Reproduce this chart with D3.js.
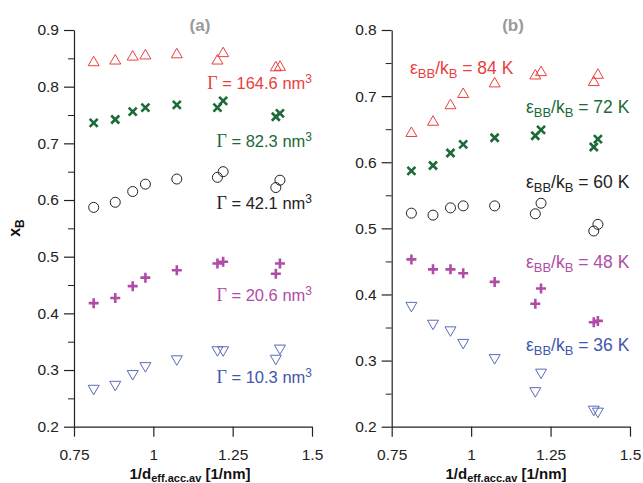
<!DOCTYPE html>
<html>
<head>
<meta charset="utf-8">
<script src="https://cdn.jsdelivr.net/npm/d3@7"></script>
<style>
  body { margin: 0; background: #fff; }
  svg text { font-family: "Liberation Sans", Arial, sans-serif; }
</style>
</head>
<body>
<div id="chart"></div>
<script>
// x values (1/d_eff.acc.av) shared by every series
var xVals = [0.812, 0.880, 0.935, 0.975, 1.074, 1.202, 1.220, 1.386, 1.399];

// panel (a): different Gamma
var aTri   = [0.844, 0.847, 0.854, 0.856, 0.858, 0.847, 0.860, 0.835, 0.836];
var aCross = [0.736, 0.742, 0.756, 0.763, 0.768, 0.763, 0.775, 0.747, 0.753];
var aCirc  = [0.587, 0.596, 0.615, 0.628, 0.637, 0.640, 0.650, 0.622, 0.635];
var aPlus  = [0.418, 0.427, 0.448, 0.463, 0.476, 0.488, 0.491, 0.470, 0.488];
var aDown  = [0.266, 0.273, 0.292, 0.306, 0.318, 0.334, 0.334, 0.319, 0.337];
var aLabels = ["164.6", "82.3", "42.1", "20.6", "10.3"];

// panel (b): different epsilon_BB/k_B
var bTri   = [0.645, 0.662, 0.687, 0.704, 0.720, 0.732, 0.737, 0.722, 0.733];
var bCross = [0.587, 0.595, 0.614, 0.627, 0.637, 0.640, 0.649, 0.623, 0.635];
var bCirc  = [0.523, 0.520, 0.531, 0.534, 0.534, 0.522, 0.538, 0.496, 0.506];
var bPlus  = [0.453, 0.438, 0.438, 0.432, 0.419, 0.386, 0.409, 0.358, 0.360];
var bDown  = [0.382, 0.355, 0.345, 0.326, 0.303, 0.253, 0.281, 0.225, 0.222];
var bLabels = ["84", "72", "60", "48", "36"];

var xTicks = [0.75, 1, 1.25, 1.5];
var aYTicks = [0.2, 0.3, 0.4, 0.5, 0.6, 0.7, 0.8, 0.9];
var bYTicks = [0.2, 0.3, 0.4, 0.5, 0.6, 0.7, 0.8];

var colors = ["#e8403e", "#1b6a38", "#222222", "#b04ca8", "#4257aa"];
var markerColors = ["#e8403e", "#1b6a38", "#222222", "#b04ca8", "#5a6bb8"];
var shapes = ["tri", "cross", "circ", "plus", "down"];

var svg = d3.select("#chart").append("svg")
    .attr("width", 643).attr("height", 483);

function drawMarker(g, shape, color, px, py) {
    if (shape === "tri") {
        g.append("path").attr("d", "M" + px + "," + (py - 5.5) + "L" + (px + 5.5) + "," + (py + 4) + "L" + (px - 5.5) + "," + (py + 4) + "Z")
            .attr("fill", "none").attr("stroke", color).attr("stroke-width", 1);
    } else if (shape === "down") {
        g.append("path").attr("d", "M" + px + "," + (py + 5.5) + "L" + (px + 5.5) + "," + (py - 4) + "L" + (px - 5.5) + "," + (py - 4) + "Z")
            .attr("fill", "none").attr("stroke", color).attr("stroke-width", 1);
    } else if (shape === "circ") {
        g.append("circle").attr("cx", px).attr("cy", py).attr("r", 5)
            .attr("fill", "none").attr("stroke", color).attr("stroke-width", 1);
    } else if (shape === "cross") {
        var s = 4;
        g.append("path").attr("d", "M" + (px - s) + "," + (py - s) + "L" + (px + s) + "," + (py + s) + "M" + (px - s) + "," + (py + s) + "L" + (px + s) + "," + (py - s))
            .attr("stroke", color).attr("stroke-width", 2.6);
    } else if (shape === "plus") {
        var p = 5;
        g.append("path").attr("d", "M" + (px - p) + "," + py + "L" + (px + p) + "," + py + "M" + px + "," + (py - p) + "L" + px + "," + (py + p))
            .attr("stroke", color).attr("stroke-width", 2.6);
    }
}

function drawPanel(opt) {
    var x = d3.scaleLinear().domain([0.75, 1.5]).range([opt.left, opt.right]);
    var y = d3.scaleLinear().domain([0.2, opt.ymax]).range([426.7, 30]);

    var g = svg.append("g");

    // minor y ticks every 0.05
    var minor = d3.range(0.25, opt.ymax, 0.1);
    g.append("g")
        .attr("transform", "translate(" + opt.left + ",0)")
        .call(d3.axisLeft(y).tickValues(minor).tickSize(6).tickFormat(""))
        .call(function (s) { s.select(".domain").remove(); });

    var yAxis = g.append("g")
        .attr("transform", "translate(" + opt.left + ",0)")
        .call(d3.axisLeft(y).tickValues(opt.yTicks).tickSize(10).tickSizeOuter(0).tickPadding(5)
            .tickFormat(d3.format(".1f")));
    var xAxis = g.append("g")
        .attr("transform", "translate(0,426.7)")
        .call(d3.axisBottom(x).tickValues(xTicks).tickSize(10).tickSizeOuter(0).tickPadding(12)
            .tickFormat(function (d) { return d === 1 ? "1" : d3.format("")(d); }));

    [yAxis, xAxis].forEach(function (a) {
        a.selectAll("text").attr("font-size", 15.5).attr("fill", "#222")
            .attr("font-family", "Liberation Sans, Arial, sans-serif");
        a.selectAll("line,path").attr("stroke", "#222").attr("stroke-width", 1.2);
    });
    g.selectAll("line").attr("stroke", "#222");

    // markers
    opt.series.forEach(function (vals, si) {
        vals.forEach(function (v, i) {
            drawMarker(g, shapes[si], markerColors[si], x(xVals[i]), y(v));
        });
    });

    // panel title
    g.append("text").attr("x", opt.titleX).attr("y", 31)
        .attr("text-anchor", "middle").attr("font-size", 17).attr("font-weight", "bold")
        .attr("fill", "#999").text(opt.title);

    // x label
    var xl = g.append("text").attr("x", opt.xlabX).attr("y", 479)
        .attr("text-anchor", "middle").attr("font-size", 15).attr("font-weight", "bold").attr("fill", "#111");
    xl.append("tspan").text("1/d");
    xl.append("tspan").attr("dy", 3).attr("font-size", 11).text("eff.acc.av");
    xl.append("tspan").attr("dy", -3).text(" [1/nm]");

    return { x: x, y: y, g: g };
}

// ---------- panel (a)
var pa = drawPanel({
    left: 74, right: 312, ymax: 0.9, yTicks: aYTicks,
    series: [aTri, aCross, aCirc, aPlus, aDown],
    title: "(a)", titleX: 200, xlabX: 190
});
var aLabY = [0.796, 0.693, 0.585, 0.4225, 0.277];
aLabels.forEach(function (lab, i) {
    var t = pa.g.append("text").attr("x", pa.x(1.5)).attr("y", pa.y(aLabY[i]))
        .attr("text-anchor", "end").attr("font-size", 16.5).attr("fill", colors[i]);
    t.append("tspan").attr("font-family", "Liberation Serif, Times New Roman, serif").attr("font-size", 18).text("Γ");
    t.append("tspan").text(" = " + lab + " nm");
    t.append("tspan").attr("dy", -6).attr("font-size", 12).text("3");
});

// ---------- panel (b)
var pb = drawPanel({
    left: 391.7, right: 630, ymax: 0.8, yTicks: bYTicks,
    series: [bTri, bCross, bCirc, bPlus, bDown],
    title: "(b)", titleX: 513, xlabX: 506
});
var bLabX = [0.8075, 1.498, 1.498, 1.498, 1.498];
var bLabY = [0.733, 0.6744, 0.561, 0.4395, 0.3148];
bLabels.forEach(function (lab, i) {
    var t = pb.g.append("text").attr("x", pb.x(bLabX[i])).attr("y", pb.y(bLabY[i]))
        .attr("text-anchor", i === 0 ? "start" : "end").attr("font-size", 17.5).attr("fill", colors[i]);
    t.append("tspan").text("ε");
    t.append("tspan").attr("dy", 4).attr("font-size", 13).text("BB");
    t.append("tspan").attr("dy", -4).text("/k");
    t.append("tspan").attr("dy", 4).attr("font-size", 13).text("B");
    t.append("tspan").attr("dy", -4).text(" = " + lab + " K");
});

// y label x_B
var yl = svg.append("text").attr("transform", "translate(20,228) rotate(-90)")
    .attr("text-anchor", "middle").attr("font-size", 16).attr("font-weight", "bold").attr("fill", "#111");
yl.append("tspan").text("x");
yl.append("tspan").attr("dy", 4).attr("font-size", 12).text("B");
</script>
</body>
</html>
